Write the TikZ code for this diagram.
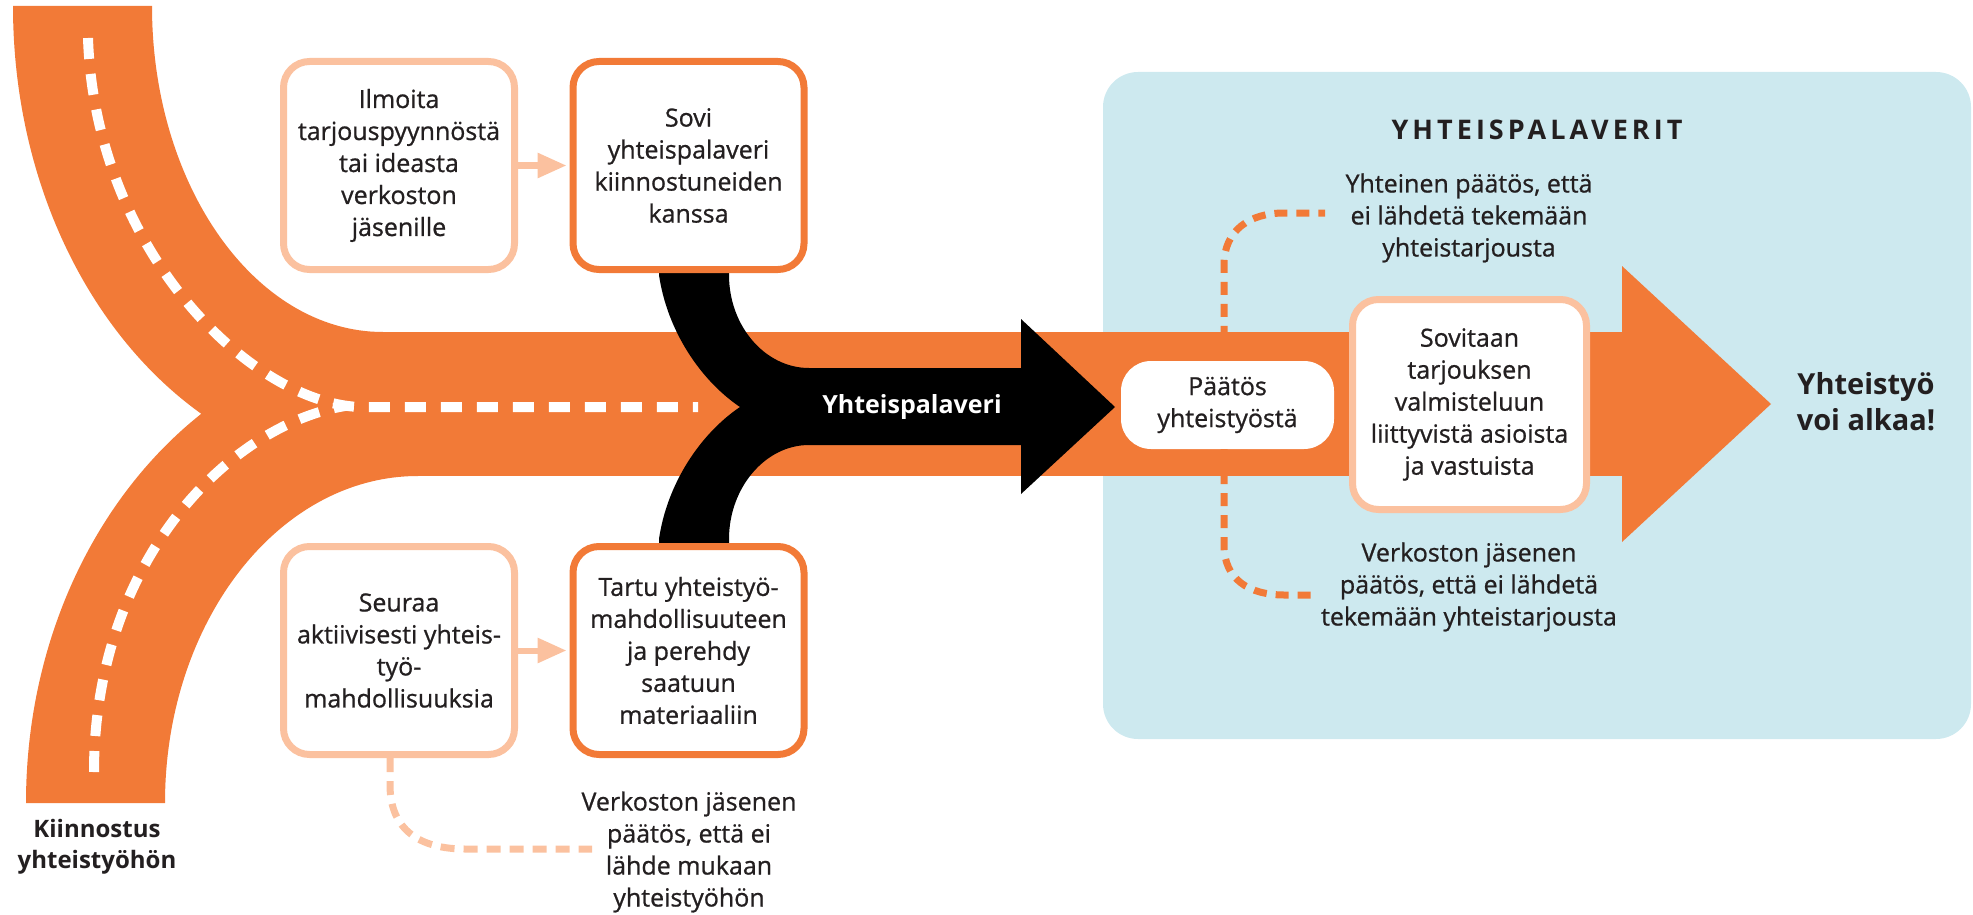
\documentclass[tikz,border=0pt]{standalone}
\usepackage{fontspec}
\setmainfont{Open Sans}[UprightFeatures={FakeBold=0.8}]
\newfontfamily\spaced{Open Sans}[LetterSpace=15]
\usetikzlibrary{arrows.meta}
\definecolor{orng}{RGB}{242,122,55}
\definecolor{peach}{RGB}{251,193,159}
\definecolor{pblue}{RGB}{205,233,239}
\definecolor{ink}{RGB}{35,31,32}
\newcommand\txt{\fontsize{25}{32}\selectfont}
\tikzset{
  box/.style={draw, line width=7pt, fill=white, rounded corners=26pt,
    minimum width=231pt, minimum height=208pt, align=center, font=\txt,
    text=ink, inner sep=0pt},
  pbox/.style={box, draw=peach},
  obox/.style={box, draw=orng},
  lbl/.style={align=center, font=\txt, text=ink, inner sep=0pt},
  road/.style={draw=white, line width=10pt, dash pattern=on 21pt off 15pt},
  odash/.style={draw=orng, line width=7pt, dash pattern=on 13pt off 9pt},
  pdash/.style={draw=peach, line width=7pt, dash pattern=on 14pt off 9pt},
  parrow/.style={draw=peach, line width=6pt, -{Triangle[length=29pt,width=24pt]}, shorten >=3pt},
}
\begin{document}
\begin{tikzpicture}[x=1pt, y=-1pt]
\useasboundingbox (0,0) rectangle (1973,915);
% panel
\fill[pblue, rounded corners=35pt] (1103,72) rectangle (1971,739);
% orange road
\fill[orng] (13,6) .. controls (13,264.5) and (178.6,474) .. (383,474) -- (383,332)
   .. controls (255.4,332) and (152,186) .. (152,6) -- cycle;
\fill[orng] (26,803) .. controls (26,545.1) and (201.5,336) .. (418,336) -- (418,476)
   .. controls (278.3,476) and (165,622.4) .. (165,803) -- cycle;
\fill[orng] (380,332) rectangle (1625,476);
\fill[orng] (1622,266) -- (1771,404) -- (1622,542) -- cycle;
% road markings
\path[road] (88,38) .. controls (95,250) and (250,402) .. (359,407) -- (698,407);
\path[road] (94,772) .. controls (94,560) and (230,425) .. (345,406);
% black merge arrow
\fill[black] (659,265) -- (659,275) .. controls (667,330) and (700,380) .. (740,407)
  .. controls (700,434) and (667,484) .. (659,539) -- (659,550) -- (729,550) -- (729,539)
  .. controls (729,488) and (765,445) .. (809,445) -- (1021,445) -- (1021,494)
  -- (1115,407) -- (1021,319) -- (1021,368) -- (809,368)
  .. controls (765,368) and (729,326) .. (729,275) -- (729,265) -- cycle;
\node[font=\fontsize{25}{32}\selectfont\bfseries, text=white] (yp) at (912,407) {Yhteispalaveri};
% left boxes
\node[pbox] (ilm) at (399,165.5) {Ilmoita\\tarjouspyynnöstä\\tai ideasta\\verkoston\\jäsenille};
\node[obox] (sovi) at (688.5,165.5) {Sovi\\yhteispalaveri\\kiinnostuneiden\\kanssa};
\node[pbox] (seu) at (399,650.5) {Seuraa\\aktiivisesti yhteis-\\työ-\\mahdollisuuksia};
\node[obox] (tar) at (688.5,650.5) {Tartu yhteistyö-\\mahdollisuuteen\\ja perehdy\\saatuun\\materiaaliin};
\draw[parrow] (ilm.east) -- (sovi.west);
\draw[parrow] (seu.east) -- (tar.west);
% peach dashed
\coordinate (pend) at (592,849);
\draw[pdash] ([xshift=-9pt]seu.south) -- (390,785) .. controls (390,830) and (420,849) .. (465,849) -- (pend);
\node[lbl] (quit) at (689,852) {Verkoston jäsenen\\päätös, että ei\\lähde mukaan\\yhteistyöhön};
\node[lbl, font=\fontsize{24}{31}\selectfont\bfseries] (kiin) at (97,847) {Kiinnostus\\yhteistyöhön};
% panel content
\node[text=ink, font=\spaced\fontsize{27}{34}\selectfont\bfseries] (title) at (1537,130) {YHTEISPALAVERIT};
\node[fill=white, rounded corners=30pt, minimum width=213pt, minimum height=88pt, inner sep=0pt,
  align=center, font=\txt, text=ink] (paat) at (1227.5,405) {Päätös\\yhteistyöstä};
\node[pbox, minimum width=234pt, minimum height=210pt] (sovt) at (1469.5,404.5)
  {Sovitaan\\tarjouksen\\valmisteluun\\liittyvistä asioista\\ja vastuista};
\coordinate (tend) at (1325,213);
\coordinate (bend) at (1317,595);
\draw[odash] (paat.north -| 1224,0) -- (1224,265) .. controls (1224,230) and (1250,213) .. (1284,213) -- (tend);
\draw[odash] (paat.south -| 1224,0) -- (1224,545) .. controls (1224,580) and (1250,595) .. (1284,595) -- (bend);
\node[lbl] (yes1) at (1469,218) {Yhteinen päätös, että\\ei lähdetä tekemään\\yhteistarjousta};
\node[lbl] (no1) at (1469,587) {Verkoston jäsenen\\päätös, että ei lähdetä\\tekemään yhteistarjousta};
\node[lbl, font=\fontsize{29}{36}\selectfont\bfseries] (go) at (1866,402) {Yhteistyö\\voi alkaa!};
\end{tikzpicture}
\end{document}
